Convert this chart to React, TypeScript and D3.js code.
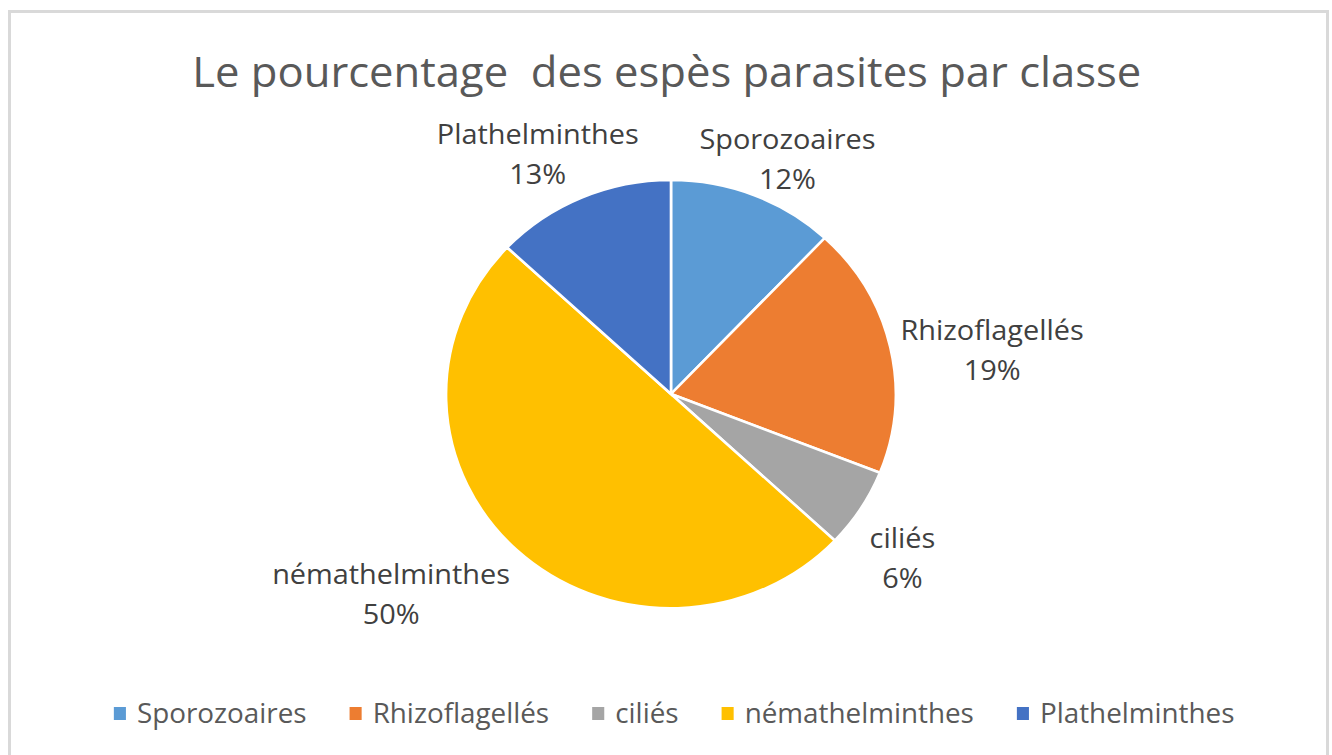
import { useEffect, useRef } from 'react';
import * as d3 from 'd3';

// chart data
const categories = ['Sporozoaires', 'Rhizoflagellés', 'ciliés', 'némathelminthes', 'Plathelminthes'];
const percentages = [12, 19, 6, 50, 13];
const colors = ['#5B9BD5', '#ED7D31', '#A5A5A5', '#FFC000', '#4472C4'];
const title = 'Le pourcentage\u00a0 des espès parasites par classe';

const W = 1332;
const H = 755;

export default function App() {
  const ref = useRef<SVGSVGElement>(null);

  useEffect(() => {
    const svg = d3.select(ref.current);
    svg.selectAll('*').remove();
    const font = '"Open Sans", Lato, sans-serif';

    svg.append('rect').attr('width', W).attr('height', H).attr('fill', '#fff');
    // chart area border
    svg.append('rect')
      .attr('x', 9.5).attr('y', 11.5)
      .attr('width', 1318).attr('height', 760)
      .attr('fill', 'none')
      .attr('stroke', '#d9d9d9')
      .attr('stroke-width', 3);

    // the picture is slightly stretched horizontally
    const cx = 671, cy = 394, r = 214, sx = 1.05;
    const root = svg.append('g')
      .attr('transform', `translate(${cx},0) scale(${sx},1) translate(${-cx},0)`);

    root.append('text')
      .attr('x', 667).attr('y', 87)
      .attr('text-anchor', 'middle')
      .style('font-family', font)
      .style('font-size', '41.5px')
      .style('fill', '#595959')
      .text(title);

    const data = categories.map((c, i) => ({ name: c, value: percentages[i], color: colors[i] }));
    const pie = d3.pie<any>().value(d => d.value).sort(null);
    const arcs = pie(data);
    const arc = d3.arc<any>().innerRadius(0).outerRadius(r);

    const g = root.append('g').attr('transform', `translate(${cx},${cy})`);
    g.selectAll('path')
      .data(arcs)
      .enter()
      .append('path')
      .attr('d', arc)
      .attr('fill', d => d.data.color)
      .attr('stroke', '#fff')
      .attr('stroke-width', 2.5);

    // data labels outside the slices (best-fit style: drift a bit clockwise)
    const lineH = 40;
    const gap = 10;
    const clamp = (v: number) => Math.max(-1, Math.min(1, v));
    arcs.forEach(a => {
      const mid = (a.startAngle + a.endAngle) / 2;
      const s = Math.sin(mid), c = Math.cos(mid);
      const px = cx + (r + gap) * s;
      const py = cy - (r + gap) * c;
      const t = root.append('text')
        .attr('text-anchor', 'middle')
        .style('font-family', font)
        .style('font-size', '27.5px')
        .style('fill', '#404040');
      const t1 = t.append('tspan').text(a.data.name);
      const t2 = t.append('tspan').text(`${a.data.value}%`);
      const w = Math.max((t1.node() as any).getComputedTextLength(), (t2.node() as any).getComputedTextLength());
      const h = 62;
      const lx = px + (w / 2) * clamp(2.5 * s * Math.abs(s));
      const ly = py - (h / 2) * clamp(1.5 * c) + 8 + 10 * s - 7 * c;
      t1.attr('x', lx).attr('y', ly - 11);
      t2.attr('x', lx).attr('y', ly - 11 + lineH);
    });

    // legend
    const lg = root.append('g');
    const items: { g: any; w: number }[] = [];
    data.forEach(d => {
      const ig = lg.append('g');
      ig.append('rect')
        .attr('x', 0).attr('y', -7)
        .attr('width', 11.5).attr('height', 13)
        .attr('fill', d.color);
      const tx = ig.append('text')
        .attr('x', 22).attr('y', 9)
        .style('font-family', font)
        .style('font-size', '26.5px')
        .style('fill', '#595959')
        .text(d.name);
      items.push({ g: ig, w: 22 + (tx.node() as any).getComputedTextLength() });
    });
    const spacing = 41;
    const total = d3.sum(items, d => d.w) + spacing * (items.length - 1);
    let x = 674 - total / 2;
    items.forEach(it => {
      it.g.attr('transform', `translate(${x},714)`);
      x += it.w + spacing;
    });
  }, []);

  return (
    <svg
      ref={ref}
      width={W}
      height={H}
      style={{ position: 'absolute', left: 0, top: 0, display: 'block' }}
    />
  );
}
